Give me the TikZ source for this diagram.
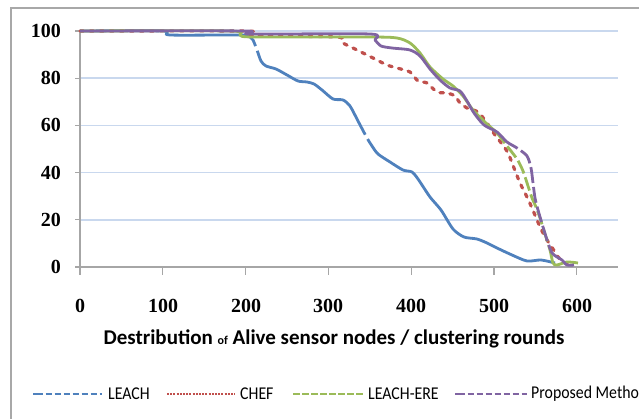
\documentclass[tikz,border=0pt]{standalone}
\usepackage{fontspec}
\setmainfont{Liberation Serif}
\newfontfamily\calfont{Carlito}
\newfontfamily\legfont[FakeStretch=0.88]{Carlito}
\definecolor{cleach}{HTML}{4F81BD}
\definecolor{cchef}{HTML}{C0504D}
\definecolor{cere}{HTML}{9BBB59}
\definecolor{cprop}{HTML}{8064A2}
\definecolor{cgrid}{HTML}{C9D8EE}
\definecolor{caxis}{HTML}{A6A6A6}
\definecolor{cframe}{HTML}{A8A8A8}
\tikzset{
  gridline/.style={cgrid, line width=1.6pt},
  axisline/.style={caxis, line width=1.2pt},
  curve/.style={line width=2.8pt, line join=round, smooth, tension=0.45},
  leachc/.style={curve, cleach, dash pattern=on 186pt off 5pt on 146pt off 5pt on 600pt},
  chefc/.style={curve, cchef, line width=3.2pt, line cap=round, dash pattern=on 3.5pt off 6.5pt},
  erec/.style={curve, cere, dash pattern=on 475pt off 4pt on 14pt off 4pt on 14pt off 4pt on 14pt off 4pt on 14pt off 4pt on 14pt off 4pt on 14pt off 4pt on 60pt},
  propc/.style={curve, cprop, dash pattern=on 505pt off 4pt on 16pt off 4pt on 16pt off 4pt on 16pt off 4pt on 16pt off 4pt on 16pt off 4pt on 60pt},
  ylab/.style={font=\fontsize{20}{20}\selectfont\bfseries, anchor=east, inner sep=0pt},
  xlab/.style={font=\fontsize{20}{20}\selectfont\bfseries, inner sep=0pt},
  ttl/.style={font=\calfont\fontsize{21}{21}\selectfont\bfseries, inner sep=0pt},
  legtxt/.style={font=\legfont\fontsize{18}{18}\selectfont, anchor=west, inner sep=0pt},
  legline/.style={line width=2.6pt},
}
\begin{document}
\begin{tikzpicture}[x=1pt,y=-1pt]
\useasboundingbox (0,0) rectangle (639,419);
\fill[white] (0,0) rectangle (639,419);
% frame
\draw[cframe, line width=1.6pt] (11,500) -- (11,8) -- (700,8);
% grid
\foreach \v in {20,40,60,80,100}
  \draw[gridline] (80,{267-2.36*\v}) -- (618,{267-2.36*\v});
% axes
\draw[axisline] (80,31) -- (80,267);
\foreach \v in {0,20,40,60,80,100}
  \draw[axisline] (75,{267-2.36*\v}) -- (80,{267-2.36*\v});
\draw[axisline] (75,267) -- (618,267);
\foreach \v in {0,100,...,600}
  \draw[axisline] ({80+0.828*\v},267) -- ({80+0.828*\v},275);
% y labels
\node[ylab] (y100) at (61,31) {100};
\node[ylab] (y80) at (61,78) {80};
\node[ylab] (y60) at (61,125) {60};
\node[ylab] (y40) at (61,173) {40};
\node[ylab] (y20) at (61,220) {20};
\node[ylab] (y0) at (61,267) {0};
% x labels
\node[xlab] (x0) at (80,306) {0};
\node[xlab] (x100) at (163,306) {100};
\node[xlab] (x200) at (246,306) {200};
\node[xlab] (x300) at (328,306) {300};
\node[xlab] (x400) at (411,306) {400};
\node[xlab] (x500) at (494,306) {500};
\node[xlab] (x600) at (577,306) {600};
\node[ttl] (xtitle) at (334,339) {Destribution {\fontsize{12}{12}\selectfont of} Alive sensor nodes / clustering rounds};
% curves
\draw[leachc] plot coordinates {(80,31) (163,31) (170,35) (243,35) (250,37) (253,40) (257,50) (261,61) (266,66) (276,69) (287,75) (298,81) (307,82) (314,84) (322,90) (333,99) (343,100) (350,106) (358,121) (367,138) (372,146) (378,154) (390,162) (403,170) (412,172) (418,179) (430,197) (441,210) (453,229) (464,237) (477,239) (487,243) (497,248) (512,255) (527,261) (541,260) (555,263)};
\draw[chefc] plot coordinates {(80,31) (243,31) (250,33) (256,36) (337,37) (343,43) (353,48) (363,53) (373,58) (387,65) (397,68) (410,72) (418,81) (427,83) (437,92) (447,93) (455,96) (460,103) (467,108) (478,112) (487,123) (495,135) (502,144) (508,153) (514,168) (520,183) (527,197) (532,208) (537,220) (542,231) (547,240) (553,249) (558,257) (565,263) (570,266)};
\draw[erec] plot coordinates {(80,31) (230,31) (240,35) (253,37) (370,37) (397,38) (410,43) (420,53) (430,67) (443,79) (453,86) (463,96) (473,110) (487,124) (497,133) (507,146) (517,159) (523,171) (528,186) (532,198) (536,207) (540,218) (545,234) (550,250) (553,263) (557,265) (567,262) (578,263)};
\draw[propc] plot coordinates {(80,31) (245,31) (250,34) (370,34) (375,40) (381,46) (392,48) (410,50) (420,56) (430,69) (440,80) (450,88) (460,91) (467,101) (474,113) (484,125) (497,132) (507,142) (517,148) (527,156) (531,168) (533,183) (535,198) (538,210) (543,227) (548,243) (552,253) (557,257) (562,260) (567,265) (574,265)};
% legend
\draw[legline, cleach, dash pattern=on 10pt off 2.5pt on 6.5pt off 2.5pt on 6.5pt off 2.5pt on 6.5pt off 2.5pt on 6.5pt off 2.5pt on 6.5pt off 2.5pt on 6.5pt off 2.5pt on 6.5pt] (33,394) coordinate (l1a) -- (102,394) coordinate (l1b);
\node[legtxt] (leg1) at (108,394) {LEACH};
\draw[legline, cchef, line width=2pt, dash pattern=on 2pt off 1.2pt] (167,394) coordinate (l2a) -- (235,394) coordinate (l2b);
\node[legtxt] (leg2) at (240,394) {CHEF};
\draw[legline, cere, line width=2pt, dash pattern=on 6.5pt off 2.5pt] (293,394) coordinate (l3a) -- (363,394) coordinate (l3b);
\node[legtxt] (leg3) at (368,394) {LEACH-ERE};
\draw[legline, cprop, dash pattern=on 10pt off 2.5pt on 6.5pt off 2.5pt on 6.5pt off 2.5pt on 6.5pt off 2.5pt on 6.5pt off 2.5pt on 6.5pt off 2.5pt on 6.5pt off 2.5pt on 6.5pt] (455,394) coordinate (l4a) -- (527,394) coordinate (l4b);
\node[legtxt] (leg4) at (531,394) {Proposed Method};
\end{tikzpicture}
\end{document}
